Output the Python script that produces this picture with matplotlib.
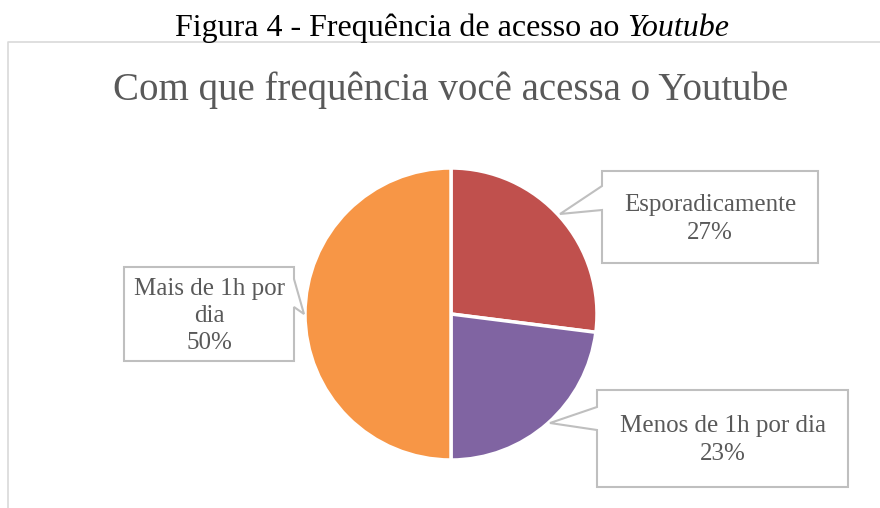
import matplotlib
matplotlib.use("Agg")
import matplotlib.pyplot as plt
from matplotlib.patches import Polygon

# data
labels = ["Esporadicamente", "Menos de 1h por dia", "Mais de 1h por dia"]
box_texts = ["Esporadicamente\n27%", "Menos de 1h por dia\n23%", "Mais de 1h por\ndia\n50%"]
values = [27, 23, 50]
colors = ["#C0504D", "#8064A2", "#F79646"]

W, H = 880, 508
fig = plt.figure(figsize=(W / 100, H / 100), dpi=100)
ax = fig.add_axes([0, 0, 1, 1])


def py(y):
    # pixel row -> data y
    return H - y


# caption above the chart (regular part + italic "Youtube")
ax.text(627, py(28), "Figura 4 - Frequência de acesso ao ", ha="right", va="center",
        fontsize=23, family="Liberation Serif", color="black")
ax.text(627, py(28), "Youtube", ha="left", va="center",
        fontsize=23, family="Liberation Serif", style="italic", color="black")

# chart frame (only left and top edges visible)
ax.plot([8, 8, W], [0, py(42), py(42)], color="#D9D9D9", lw=1.2)

# title
ax.text(451, py(90), "Com que frequência você acessa o Youtube", ha="center", va="center",
        fontsize=28, family="Liberation Serif", color="#595959")

# pie
ax.pie(values, colors=colors, startangle=90, counterclock=False,
       center=(451, py(314)), radius=146,
       wedgeprops=dict(edgecolor="white", linewidth=2.5))
ax.set_xlim(0, W)
ax.set_ylim(0, H)
ax.set_aspect("auto")
ax.axis("off")

# callout boxes: rect (x0, y0, x1, y1) in pixels, tail side, tail (join1, tip, join2), text centre
boxes = [
    ((602, 171, 818, 263), "left", ((602, 186), (560, 214), (602, 210)), (710, 219)),
    ((597, 390, 848, 487), "left", ((597, 407), (550, 423), (597, 430)), (723, 440)),
    ((124, 267, 294, 361), "right", ((294, 279), (304, 314), (294, 307)), (209, 316)),
]

for ((x0, y0, x1, y1), side, tail, (tx, ty)), txt in zip(boxes, box_texts):
    j1, tip, j2 = tail
    if side == "left":
        pts = [(x0, y0), (x1, y0), (x1, y1), (x0, y1), j2, tip, j1]
    else:
        pts = [(x0, y0), (x1, y0), j1, tip, j2, (x1, y1), (x0, y1)]
    pts = [(px, py(pyy)) for px, pyy in pts]
    ax.add_patch(Polygon(pts, closed=True, facecolor="white", edgecolor="#BFBFBF", lw=1.5))
    ax.text(tx, py(ty), txt, ha="center", va="center", fontsize=18, family="Liberation Serif",
            color="#595959", linespacing=1.3)

fig.savefig("out.png", dpi=100)
